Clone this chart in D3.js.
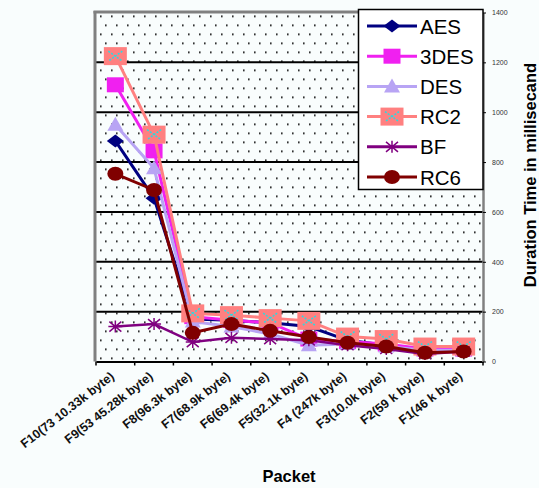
<!DOCTYPE html>
<html>
<head>
<meta charset="utf-8">
<script src="https://cdn.jsdelivr.net/npm/d3@7"></script>
<style>
  body { margin: 0; background: #f9fdfd; }
  svg { display: block; font-family: Arial, "Liberation Sans", sans-serif; }
</style>
</head>
<body>
<div id="draw"></div>
<script>
// packets on the x axis, duration (ms) on the right-hand y axis
var packets = ['F10(73 10.33k byte)', 'F9(53 45.28k byte)', 'F8(96.3k byte)', 'F7(68.9k byte)',
  'F6(69.4k byte)', 'F5(32.1k byte)', 'F4 (247k byte)', 'F3(10.0k byte)', 'F2(59 k byte)', 'F1(46 k byte)'];
var seriesNames = ['AES', '3DES', 'DES', 'RC2', 'BF', 'RC6'];
var aes  = [885, 655, 170, 165, 155, 140, 85, 65, 40, 45];
var des3 = [1110, 845, 180, 165, 155, 90, 80, 70, 50, 50];
var des  = [950, 775, 160, 140, 110, 65, 70, 60, 45, 45];
var rc2  = [1225, 910, 193, 186, 174, 163, 100, 90, 60, 60];
var bf   = [140, 150, 78, 95, 90, 85, 65, 50, 30, 40];
var rc6  = [753, 688, 115, 150, 123, 98, 75, 60, 35, 40];
var yTicks = [0, 200, 400, 600, 800, 1000, 1200, 1400];

var seriesValues = [aes, des3, des, rc2, bf, rc6];
var colors = ['#000080', '#f020f0', '#b8a4f4', '#ff8080', '#800080', '#800000'];

var W = 539, H = 488;
// plot box (window.top is reserved, so prefix with p)
var pL = 96, pR = 483, pT = 12.5, pB = 361.5;

var svg = d3.select('#draw').append('svg').attr('width', W).attr('height', H);

var x = d3.scaleBand().domain(packets).range([pL, pR]);
var y = d3.scaleLinear().domain([0, 1400]).range([pB, pT]);

// dotted plot background
var defs = svg.append('defs');
var pat = defs.append('pattern').attr('id', 'dots').attr('patternUnits', 'userSpaceOnUse')
  .attr('width', 22).attr('height', 18).attr('x', pL).attr('y', pT);
pat.append('rect').attr('width', 22).attr('height', 18).attr('fill', '#f9fdfd');
pat.append('rect').attr('x', 4).attr('y', 3).attr('width', 1.6).attr('height', 1.6).attr('fill', '#000');
pat.append('rect').attr('x', 15).attr('y', 3).attr('width', 1.6).attr('height', 1.6).attr('fill', '#000');
pat.append('rect').attr('x', 9).attr('y', 12).attr('width', 1.6).attr('height', 1.6).attr('fill', '#000');
pat.append('rect').attr('x', 20).attr('y', 12).attr('width', 1.6).attr('height', 1.6).attr('fill', '#000');

svg.append('rect').attr('x', pL).attr('y', pT).attr('width', pR - pL).attr('height', pB - pT)
  .attr('fill', 'url(#dots)');

// gridlines
svg.selectAll('.grid').data(yTicks.filter(function(d){ return d > 0 && d < 1400; }))
  .enter().append('line')
  .attr('x1', pL).attr('x2', pR)
  .attr('y1', function(d){ return y(d); }).attr('y2', function(d){ return y(d); })
  .attr('stroke', '#000').attr('stroke-width', 2);

// frame: grey left and top
svg.append('line').attr('x1', pL - 1).attr('x2', pL - 1).attr('y1', pT - 1.5).attr('y2', pB)
  .attr('stroke', '#808080').attr('stroke-width', 3);
svg.append('line').attr('x1', pL - 2.5).attr('x2', pR).attr('y1', pT - 0.5).attr('y2', pT - 0.5)
  .attr('stroke', '#808080').attr('stroke-width', 3);

// bottom axis
var xAxis = svg.append('g').attr('transform', 'translate(0,' + pB + ')')
  .call(d3.axisBottom(x).tickSizeOuter(0).tickSize(0).tickFormat(''));
xAxis.select('.domain').attr('stroke', '#000').attr('stroke-width', 2);
svg.selectAll('.xtick').data(d3.range(packets.length + 1)).enter().append('line')
  .attr('x1', function(i){ return pL + i * x.step(); })
  .attr('x2', function(i){ return pL + i * x.step(); })
  .attr('y1', pB).attr('y2', pB + 4).attr('stroke', '#000').attr('stroke-width', 1.5);

svg.selectAll('.xlab').data(packets).enter().append('text')
  .attr('transform', function(d){ return 'translate(' + (x(d) + x.bandwidth() / 2 - 3) + ',' + (pB + 13) + ') rotate(-38)'; })
  .attr('text-anchor', 'end').attr('dy', '0.35em')
  .attr('font-size', 12.5).attr('font-weight', 'bold').attr('fill', '#111')
  .text(function(d){ return d; });

// right axis
var yAxis = svg.append('g').attr('transform', 'translate(' + pR + ',0)')
  .call(d3.axisRight(y).tickValues(yTicks).tickFormat(d3.format('d')).tickSize(3).tickPadding(6).tickSizeOuter(0));
yAxis.select('.domain').attr('stroke', '#808080').attr('stroke-width', 2.5);
yAxis.selectAll('.tick line').attr('stroke', '#000');
yAxis.selectAll('text').attr('font-size', 7).attr('fill', '#333');

// series lines
var line = d3.line().x(function(d, i){ return x(packets[i]) + x.bandwidth() / 2; }).y(function(d){ return y(d); });

function marker(g, k, cx, cy) {
  var c = colors[k];
  if (k === 0) {
    g.append('path').attr('d', 'M' + (cx - 8.5) + ',' + cy + 'L' + cx + ',' + (cy - 6.5) + 'L' + (cx + 8.5) + ',' + cy + 'L' + cx + ',' + (cy + 6.5) + 'Z').attr('fill', c);
  } else if (k === 1) {
    g.append('rect').attr('x', cx - 8.5).attr('y', cy - 7.5).attr('width', 17).attr('height', 15).attr('fill', c);
  } else if (k === 2) {
    g.append('path').attr('d', 'M' + cx + ',' + (cy - 8) + 'L' + (cx + 8) + ',' + (cy + 6) + 'L' + (cx - 8) + ',' + (cy + 6) + 'Z').attr('fill', c);
  } else if (k === 3) {
    g.append('rect').attr('x', cx - 11.5).attr('y', cy - 9).attr('width', 23).attr('height', 18).attr('fill', c);
    g.append('path').attr('d', 'M' + (cx - 7) + ',' + (cy - 5) + 'L' + (cx + 7) + ',' + (cy + 5) + 'M' + (cx + 7) + ',' + (cy - 5) + 'L' + (cx - 7) + ',' + (cy + 5))
      .attr('stroke', '#30d8e0').attr('stroke-width', 1.6).attr('stroke-dasharray', '2,1.5');
  } else if (k === 4) {
    g.append('path').attr('d', 'M' + (cx - 7) + ',' + cy + 'L' + (cx + 7) + ',' + cy +
      'M' + cx + ',' + (cy - 6) + 'L' + cx + ',' + (cy + 6) +
      'M' + (cx - 6) + ',' + (cy - 5) + 'L' + (cx + 6) + ',' + (cy + 5) +
      'M' + (cx + 6) + ',' + (cy - 5) + 'L' + (cx - 6) + ',' + (cy + 5))
      .attr('stroke', c).attr('stroke-width', 1.5);
  } else {
    g.append('ellipse').attr('cx', cx).attr('cy', cy).attr('rx', 8).attr('ry', 7).attr('fill', c);
  }
}

seriesValues.forEach(function(vals, k){
  var g = svg.append('g');
  g.append('path').datum(vals).attr('d', line).attr('fill', 'none')
    .attr('stroke', colors[k]).attr('stroke-width', k === 4 ? 2.5 : 3);
  vals.forEach(function(v, i){
    marker(g, k, x(packets[i]) + x.bandwidth() / 2, y(v));
  });
});

// legend
var lg = svg.append('g');
lg.append('rect').attr('x', 358.5).attr('y', 9.5).attr('width', 124.5).attr('height', 180)
  .attr('fill', '#fff').attr('stroke', '#000').attr('stroke-width', 1.5);
seriesNames.forEach(function(name, k){
  var ly = 26 + k * 30.2;
  lg.append('line').attr('x1', 367).attr('x2', 417).attr('y1', ly).attr('y2', ly)
    .attr('stroke', colors[k]).attr('stroke-width', 3);
  marker(lg, k, 392, ly);
  lg.append('text').attr('x', 420).attr('y', ly + 7.5).attr('font-size', 20.5)
    .attr('fill', '#000').text(name);
});

// axis titles
svg.append('text').attr('transform', 'translate(536,175) rotate(-90)')
  .attr('text-anchor', 'middle').attr('font-size', 16.5).attr('font-weight', 'bold')
  .text('Duration Time in millisecand');
svg.append('text').attr('x', 289).attr('y', 482).attr('text-anchor', 'middle')
  .attr('font-size', 16.5).attr('font-weight', 'bold').text('Packet');
</script>
</body>
</html>
